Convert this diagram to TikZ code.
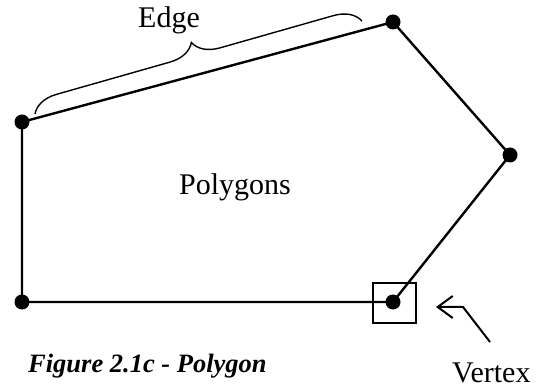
\documentclass[tikz,border=0pt]{standalone}
\usepackage{fontspec}
\setmainfont{Liberation Serif}
\usetikzlibrary{decorations.pathreplacing,arrows.meta}
\begin{document}
\begin{tikzpicture}[x=1pt,y=-1pt,
  edge/.style={line width=2.4pt},
  vdot/.style={circle,fill=black,inner sep=0pt,minimum size=15pt},
  lbl/.style={font=\fontsize{30}{34}\selectfont,inner sep=0pt,anchor=base west},
  captext/.style={font=\fontsize{26.5}{30}\selectfont\bfseries\itshape,inner sep=0pt,anchor=base west}]
\useasboundingbox (0,0) rectangle (538,387);
\node[vdot] (v1) at (22,122) {};
\node[vdot] (v2) at (393,22) {};
\node[vdot] (v3) at (510,155) {};
\node[vdot] (v4) at (393,302) {};
\node[vdot] (v5) at (22,302) {};
\draw[edge] (v1.center) -- (v2.center) -- (v3.center) -- (v4.center) -- (v5.center) -- cycle;
\node[draw,line width=2pt,minimum width=43pt,minimum height=40pt,inner sep=0pt] (box) at (394,303) {};
\coordinate (b1) at (35,114);
\coordinate (b2) at (362,21);
\draw[line width=1.4pt,decorate,decoration={brace,amplitude=26pt}] (b1) -- (b2);
\node[lbl] (edgelbl) at (138,28) {Edge};
\node[lbl] (poly) at (179,195) {Polygons};
\node[lbl] (vert) at (452,382) {Vertex};
\node[captext] (caption) at (28,372) {Figure 2.1c - Polygon};
\coordinate (a0) at (490,342);
\coordinate (a1) at (463,307);
\coordinate (a2) at (436,307);
\draw[line width=2pt,-{Straight Barb[length=15pt,width=22pt]}] (a0) -- (a1) -- (a2);
\end{tikzpicture}
\end{document}
